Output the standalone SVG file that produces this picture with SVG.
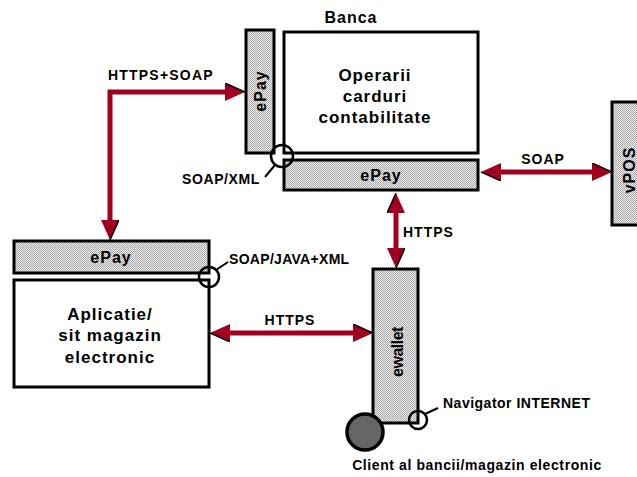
<svg xmlns="http://www.w3.org/2000/svg" width="637" height="477" viewBox="0 0 637 477">
<style>
.box{fill:#fff;stroke:#000;stroke-width:3}
.hb{fill:url(#hatch);stroke:#000;stroke-width:3}
.big{font-family:"Liberation Sans",Arial,sans-serif;font-weight:bold;font-size:17px;letter-spacing:1px;text-anchor:middle;fill:#000}
.mid{font-family:"Liberation Sans",Arial,sans-serif;font-weight:bold;font-size:16px;letter-spacing:1px;text-anchor:middle;fill:#000}
.lbl{font-family:"Liberation Sans",Arial,sans-serif;font-weight:bold;font-size:14px;fill:#000}
.conn{fill:none;stroke:#A0001E;stroke-width:5}
.ring{fill:none;stroke:#000;stroke-width:2.5}
.lead{fill:none;stroke:#000;stroke-width:2}
</style>
<defs>
<pattern id="hatch" width="2" height="2" patternUnits="userSpaceOnUse">
<rect width="2" height="2" fill="#efefef"/>
<rect width="1" height="1" fill="#a8a8a8"/>
<rect x="1" y="1" width="1" height="1" fill="#a8a8a8"/>
</pattern>
<marker id="ah" viewBox="0 0 20 18" refX="0" refY="9" markerWidth="20" markerHeight="18" markerUnits="userSpaceOnUse" orient="auto-start-reverse">
<path d="M0,0 L20,9 L0,18 Z" fill="#A0001E"/>
<path d="M0,0 L20,9" stroke="#000" stroke-width="1.5" fill="none"/>
</marker>
</defs>

<g id="banca-label"><text class="mid" x="351" y="23">Banca</text></g>

<g id="operarii">
<rect class="box" x="284" y="32" width="194" height="121"/>
<text class="big" x="375" y="81">Operarii</text>
<text class="big" x="375" y="102">carduri</text>
<text class="big" x="375" y="123">contabilitate</text>
</g>

<g id="epay-bank-vertical">
<rect class="hb" x="246" y="30" width="28" height="123"/>
<text class="mid" transform="translate(266,91) rotate(-90)">ePay</text>
</g>

<g id="epay-bank">
<rect class="hb" x="284" y="160" width="194" height="30"/>
<text class="mid" x="381" y="181">ePay</text>
</g>

<g id="vpos">
<rect class="hb" x="612" y="102" width="30" height="123"/>
<text class="mid" transform="translate(635,170) rotate(-90)">vPOS</text>
</g>

<g id="epay-shop">
<rect class="hb" x="14" y="241" width="195" height="32"/>
<text class="mid" x="111" y="263">ePay</text>
</g>

<g id="aplicatie">
<rect class="box" x="14" y="280" width="195" height="107"/>
<text class="big" x="110" y="320">Aplicatie/</text>
<text class="big" x="110" y="341">sit magazin</text>
<text class="big" x="110" y="363">electronic</text>
</g>

<g id="ewallet">
<rect class="hb" x="373" y="269" width="45" height="154"/>
<text class="mid" transform="translate(403,352) rotate(-90)" style="letter-spacing:-0.5px">ewallet</text>
</g>

<g id="client">
<circle cx="365" cy="432" r="18" fill="#666" stroke="#000" stroke-width="3.5"/>
<text class="lbl" x="477" y="470" text-anchor="middle" style="letter-spacing:0.6px">Client al bancii/magazin electronic</text>
</g>

<g id="connectors">
<path class="conn" d="M110,220 V92 H225" marker-start="url(#ah)" marker-end="url(#ah)"/>
<path class="conn" d="M501,172 H592" marker-start="url(#ah)" marker-end="url(#ah)"/>
<path class="conn" d="M396,213 V248" marker-start="url(#ah)" marker-end="url(#ah)"/>
<path class="conn" d="M230,333 H353" marker-start="url(#ah)" marker-end="url(#ah)"/>
<text class="lbl" x="108" y="80" style="letter-spacing:1.2px">HTTPS+SOAP</text>
<text class="lbl" x="543" y="164" text-anchor="middle" style="letter-spacing:1px">SOAP</text>
<text class="lbl" x="403" y="237" style="letter-spacing:1px">HTTPS</text>
<text class="lbl" x="290" y="325" text-anchor="middle" style="letter-spacing:1px">HTTPS</text>
</g>

<g id="interfaces">
<circle class="ring" cx="282" cy="156" r="11"/>
<path class="lead" d="M275,165 L265,177"/>
<text class="lbl" x="182" y="184" style="letter-spacing:0.6px">SOAP/XML</text>
<circle class="ring" cx="209" cy="277" r="10"/>
<path class="lead" d="M216,270 L228,262"/>
<text class="lbl" x="229" y="264" style="letter-spacing:0.3px">SOAP/JAVA+XML</text>
<circle class="ring" cx="418" cy="420" r="9"/>
<path class="lead" d="M425,414 L438,408"/>
<text class="lbl" x="443" y="408" style="letter-spacing:0.5px">Navigator INTERNET</text>
</g>
</svg>
